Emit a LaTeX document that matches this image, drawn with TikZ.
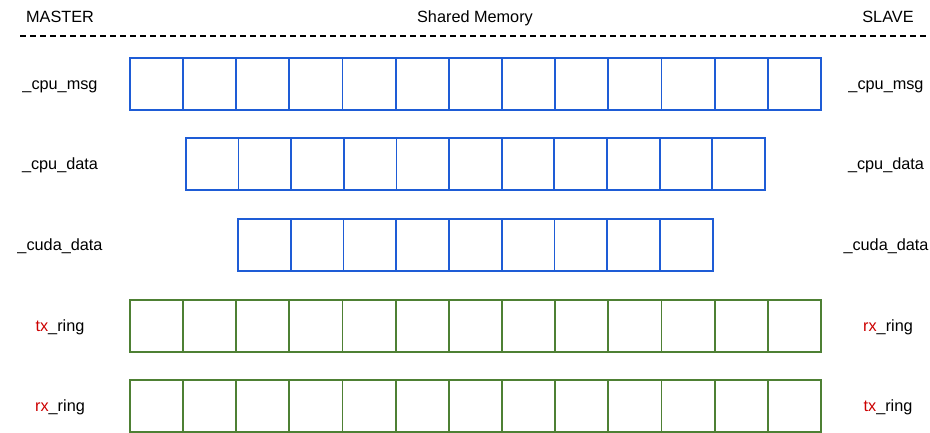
\documentclass[tikz,border=0pt]{standalone}
\usepackage{fontspec}
\setmainfont{Liberation Sans}
\definecolor{cellblue}{RGB}{30,92,214}
\definecolor{cellgreen}{RGB}{78,128,52}
\definecolor{lblred}{RGB}{204,0,0}
\tikzset{
  lbl/.style={anchor=base, font=\fontsize{12.2}{14}\selectfont, inner sep=0pt},
  cellbox/.style={draw, line width=1.35pt, anchor=north west, inner sep=0pt, minimum height=39pt},
  bluecell/.style={cellbox, draw=cellblue},
  greencell/.style={cellbox, draw=cellgreen},
}
\begin{document}
\begin{tikzpicture}[x=0.75pt,y=-0.75pt]
\useasboundingbox (0,0) rectangle (930,432);
% headings
\node[lbl] (master) at (60,22.7) {MASTER};
\node[lbl] (shm) at (475,22.7) {Shared Memory};
\node[lbl] (slave) at (888,22.7) {SLAVE};
\coordinate (dl) at (20,36);
\coordinate (dr) at (930,36);
\draw[line width=1.1pt, dash pattern=on 4.5pt off 3pt] (dl) -- (dr);
% rows
\foreach \i in {0,...,12} {
  \node[bluecell, minimum width={53.154*0.75pt}] (m\i) at ({129+53.154*\i},57) {};
  \node[greencell, minimum width={53.154*0.75pt}] (t\i) at ({129+53.154*\i},299) {};
  \node[greencell, minimum width={53.154*0.75pt}] (r\i) at ({129+53.154*\i},379) {};
}
\foreach \i in {0,...,10} {
  \node[bluecell, minimum width={52.64*0.75pt}] (d\i) at ({185+52.64*\i},137) {};
}
\foreach \i in {0,...,8} {
  \node[bluecell, minimum width={52.78*0.75pt}] (c\i) at ({237+52.78*\i},218) {};
}
% labels
\node[lbl] (lmsg) at (60,89.5) {\_cpu\_msg};
\node[lbl] (rmsg) at (886,89.5) {\_cpu\_msg};
\node[lbl] (ldata) at (60,169.5) {\_cpu\_data};
\node[lbl] (rdata) at (886,169.5) {\_cpu\_data};
\node[lbl] (lcuda) at (60,250.5) {\_cuda\_data};
\node[lbl] (rcuda) at (886,250.5) {\_cuda\_data};
\node[lbl] (ltx) at (60,331.5) {\textcolor{lblred}{tx}\_ring};
\node[lbl] (rrx) at (888,331.5) {\textcolor{lblred}{rx}\_ring};
\node[lbl] (lrx) at (60,411.5) {\textcolor{lblred}{rx}\_ring};
\node[lbl] (rtx) at (888,411.5) {\textcolor{lblred}{tx}\_ring};
\end{tikzpicture}
\end{document}
